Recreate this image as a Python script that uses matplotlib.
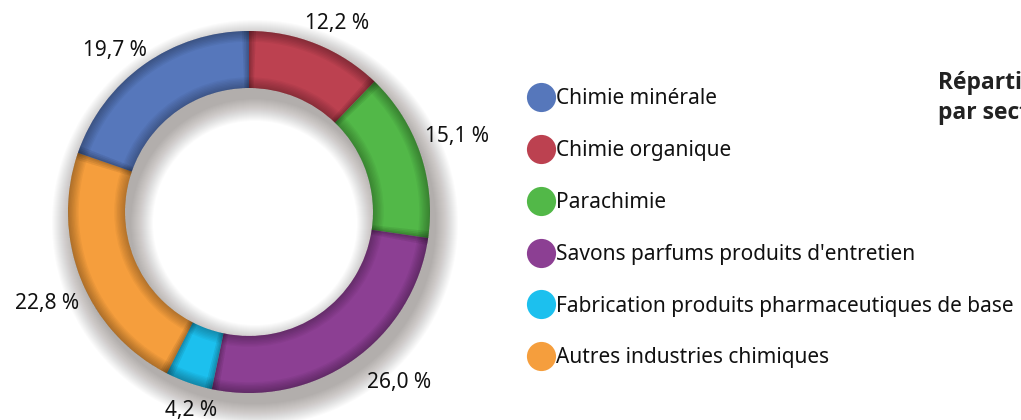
import numpy as np
import matplotlib.pyplot as plt
from matplotlib.patches import Wedge
from matplotlib.lines import Line2D

# legend order
sectors = ["Chimie minérale", "Chimie organique", "Parachimie",
           "Savons parfums produits d'entretien",
           "Fabrication produits pharmaceutiques de base",
           "Autres industries chimiques"]
shares = [19.7, 12.2, 15.1, 26.0, 4.2, 22.8]
colors = ["#5677bb", "#bc4150", "#52b848", "#8c3f93", "#1cc0ee", "#f59e3d"]

# clockwise from 12 o'clock
ring_order = [1, 2, 3, 4, 5, 0]
# small pixel nudges for the value labels (ring order)
nudge = [(7, -13), (3, 5), (26, 8), (14, 6), (0, -10), (-8, -15)]

plt.rcParams['font.family'] = ['Noto Sans', 'DejaVu Sans']

fig = plt.figure(figsize=(10.21, 4.2), dpi=100)
ax = fig.add_axes([0, 0, 1, 1])

cx, cy = 249, 208
r_out, r_in = 181, 124
ring_w = r_out - r_in

# soft drop shadow of the ring (down-right)
for s in np.linspace(0, 22, 23):
    ax.add_patch(Wedge((cx + 6, cy - 11), r_out + s, 0, 360, width=ring_w + 2 * s,
                       facecolor="#201008", alpha=0.017, edgecolor="none", zorder=1))

vals = [shares[i] for i in ring_order]
cols = [colors[i] for i in ring_order]

wedges, _, pct = ax.pie(vals, colors=cols, startangle=90, counterclock=False,
                        center=(cx, cy), radius=r_out,
                        wedgeprops=dict(width=ring_w, edgecolor="none", zorder=2),
                        autopct=lambda p: f"{p:.1f} %".replace(".", ","),
                        pctdistance=1.2,
                        textprops=dict(fontsize=15, color="#111111"))
for t, (dx, dy) in zip(pct, nudge):
    x, y = t.get_position()
    t.set_position((x + dx, y + dy))

# bevel darkening along the rims
for k in range(8):
    w = 1 + k * 1.4
    ax.add_patch(Wedge((cx, cy), r_out, 0, 360, width=w, facecolor="black",
                       alpha=0.04, edgecolor="none", zorder=3))
    ax.add_patch(Wedge((cx, cy), r_in + w, 0, 360, width=w, facecolor="black",
                       alpha=0.035, edgecolor="none", zorder=3))

# darkening along the segment boundaries
for wd in wedges:
    for a in (wd.theta1, wd.theta2):
        for d in (0.5, 1.0, 1.6, 2.2):
            ax.add_patch(Wedge((cx, cy), r_out, a - d, a + d, width=ring_w,
                               facecolor="black", alpha=0.035, edgecolor="none", zorder=3))

handles = [Line2D([], [], linestyle="none", marker="o", markersize=21,
                  markerfacecolor=c, markeredgecolor="none") for c in colors]
ax.legend(handles, sectors, loc="upper left", bbox_to_anchor=(520 / 1021, 1 - 80 / 420),
          frameon=False, fontsize=15, handlelength=1.2, handletextpad=0.15,
          labelspacing=1.48, borderaxespad=0, labelcolor="#111111")

for y, line in ((83, "Répartition"), (113, "par secteur")):
    ax.text(938, 420 - y, line, fontsize=16.5, fontweight="bold",
            family=["Open Sans", "DejaVu Sans"],
            color="#222222", va="center", ha="left")

ax.set_xlim(0, 1021)
ax.set_ylim(0, 420)
ax.set_aspect("equal")
ax.axis("off")

fig.savefig("out.png", dpi=100)
